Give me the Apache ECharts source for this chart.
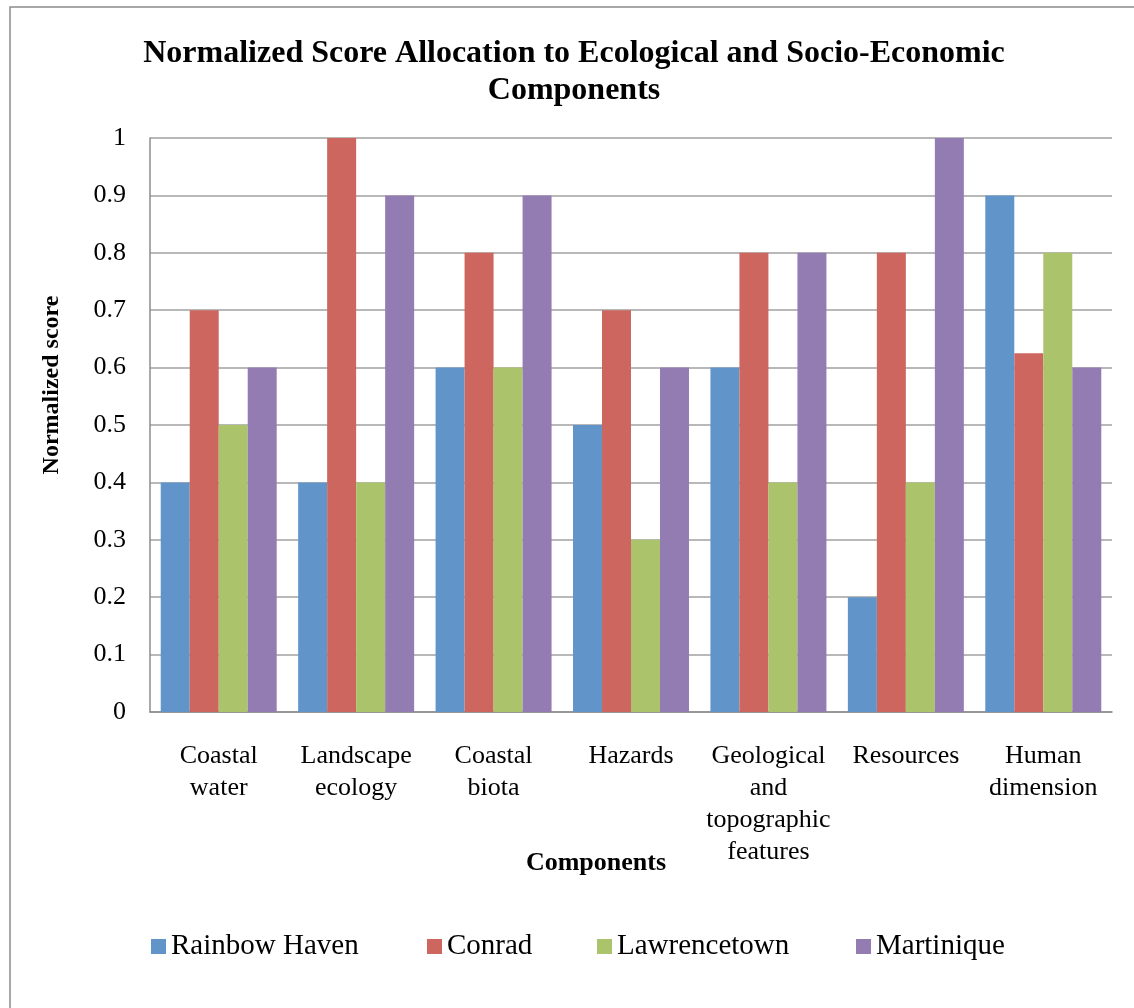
<!DOCTYPE html>
<html>
<head>
<meta charset="utf-8">
<script src="https://cdn.jsdelivr.net/npm/echarts@6/dist/echarts.min.js"></script>
<style>
html,body{margin:0;padding:0;background:#fff;overflow:hidden;}
#chart{width:1134px;height:1008px;}
</style>
</head>
<body>
<div id="chart"></div>
<script>
const categories = ["Coastal\nwater", "Landscape\necology", "Coastal\nbiota", "Hazards", "Geological\nand\ntopographic\nfeatures", "Resources", "Human\ndimension"];
const seriesNames = ["Rainbow Haven", "Conrad", "Lawrencetown", "Martinique"];
const rainbowHaven = [0.4, 0.4, 0.6, 0.5, 0.6, 0.2, 0.9];
const conrad = [0.7, 1.0, 0.8, 0.7, 0.8, 0.8, 0.625];
const lawrencetown = [0.5, 0.4, 0.6, 0.3, 0.4, 0.4, 0.8];
const martinique = [0.6, 0.9, 0.9, 0.6, 0.8, 1.0, 0.6];
const yTicks = [0, 0.1, 0.2, 0.3, 0.4, 0.5, 0.6, 0.7, 0.8, 0.9, 1];

const colors = ["#6195C9", "#CD665F", "#ABC46B", "#937CB2"];
const values = [rainbowHaven, conrad, lawrencetown, martinique];
const font = "'Liberation Serif', 'Times New Roman', serif";

const chart = echarts.init(document.getElementById('chart'), null, {renderer: 'canvas'});
const legendLefts = [146, 422, 592, 851];

chart.setOption({
  animation: false,
  backgroundColor: '#fff',
  title: {
    text: 'Normalized Score Allocation to Ecological and Socio-Economic\nComponents',
    left: 574,
    textAlign: 'center',
    top: 35,
    padding: 0,
    textStyle: {fontFamily: font, fontSize: 32, fontWeight: 'bold', color: '#000', lineHeight: 37}
  },
  graphic: [{
    type: 'rect', shape: {x: 10, y: 7, width: 1140, height: 1020},
    style: {fill: 'none', stroke: '#8c8c8c', lineWidth: 1.5}, silent: true, z: -1
  }],
  legend: seriesNames.map((n, i) => ({
    data: [n], left: legendLefts[i], top: 927, itemWidth: 15, itemHeight: 15, icon: 'rect',
    textStyle: {fontFamily: font, fontSize: 29, color: '#000'}
  })),
  grid: {left: 150, right: 22, top: 138, bottom: 296, containLabel: false},
  xAxis: {
    type: 'category',
    data: categories,
    axisLine: {lineStyle: {color: '#8c8c8c', width: 1.5}},
    axisTick: {show: false},
    axisLabel: {fontFamily: font, fontSize: 26, color: '#000', lineHeight: 32, margin: 28, interval: 0},
    name: 'Components',
    nameLocation: 'middle',
    nameGap: 138,
    nameMoveOverlap: false,
    nameTextStyle: {fontFamily: font, fontSize: 26, fontWeight: 'bold', color: '#000', padding: [0, 70, 0, 0]}
  },
  yAxis: {
    type: 'value',
    min: 0, max: 1, interval: 0.1,
    axisLine: {show: true, lineStyle: {color: '#8c8c8c', width: 1.5}},
    axisTick: {show: false},
    splitLine: {lineStyle: {color: '#a0a0a0', width: 1.5}},
    axisLabel: {fontFamily: font, fontSize: 26, color: '#000', margin: 24,
      formatter: v => { const t = yTicks.find(x => Math.abs(x - v) < 1e-9); return t === undefined ? '' : String(t); }},
    name: 'Normalized score',
    nameLocation: 'middle',
    nameGap: 86,
    nameMoveOverlap: false,
    nameTextStyle: {fontFamily: font, fontSize: 24, fontWeight: 'bold', color: '#000', padding: [0, 0, 0, 80]}
  },
  series: seriesNames.map((n, i) => ({
    name: n, type: 'bar', data: values[i],
    barGap: '0%', barCategoryGap: '15.6%',
    itemStyle: {color: colors[i]}
  }))
});
</script>
</body>
</html>
